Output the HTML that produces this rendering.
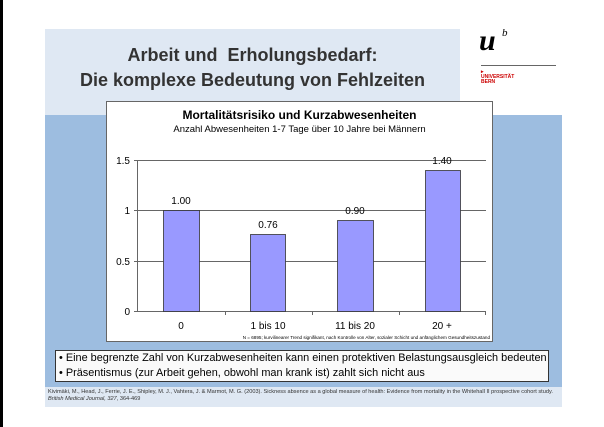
<!DOCTYPE html>
<html><head><meta charset="utf-8"><style>
body{margin:0;width:604px;height:427px;background:#fff;position:relative;overflow:hidden;font-family:"Liberation Sans",sans-serif}
div{position:absolute}
</style></head><body>
<div style="left:0;top:0;width:3px;height:427px;background:#000"></div>
<div style="left:45px;top:29px;width:415px;height:86px;background:#dfe8f3"></div>
<div style="left:45px;top:43px;width:415px;text-align:center;font-weight:bold;font-size:18px;color:#333;line-height:25px">Arbeit und&nbsp; Erholungsbedarf:<br>Die komplexe Bedeutung von Fehlzeiten</div>
<div style="left:479px;top:24px;font-family:'Liberation Serif',serif;font-weight:bold;font-style:italic;font-size:30px;color:#000">u</div>
<div style="left:502px;top:27px;font-family:'Liberation Serif',serif;font-style:italic;font-size:11px">b</div>
<div style="left:481px;top:65px;width:75px;height:1px;background:#666"></div>
<div style="left:481px;top:70px;font-size:5px;color:#c00;font-weight:bold;line-height:5px">▸<br>UNIVERSITÄT<br>BERN</div>
<div style="left:45px;top:115px;width:517px;height:272px;background:#9dbde0"></div>
<div style="left:45px;top:387px;width:517px;height:20px;background:#dfe8f3"></div>
<div style="left:48px;top:389px;font-size:5.6px;color:#333;line-height:7px;width:514px">Kivimäki, M., Head, J., Ferrie, J. E., Shipley, M. J., Vahtera, J. &amp; Marmot, M. G. (2003). Sickness absence as a global measure of health: Evidence from mortality in the Whitehall II prospective cohort study. <i>British Medical Journal, 327</i>, 364-469</div>
<div style="left:106px;top:101px;width:385px;height:239px;background:#fff;border:1px solid #666"></div>
<div style="left:106px;top:108px;width:387px;text-align:center;font-weight:bold;font-size:12px">Mortalitätsrisiko und Kurzabwesenheiten</div>
<div style="left:106px;top:124px;width:387px;text-align:center;font-size:9.5px">Anzahl Abwesenheiten 1-7 Tage über 10 Jahre bei Männern</div>
<svg style="position:absolute;left:0;top:0" width="604" height="427" font-family="Liberation Sans" font-size="10">
<g stroke="#666" stroke-width="1">
<line x1="137" y1="160.5" x2="486" y2="160.5"/><line x1="137" y1="210.5" x2="486" y2="210.5"/><line x1="137" y1="261.5" x2="486" y2="261.5"/>
<line x1="137.5" y1="160" x2="137.5" y2="311"/><line x1="137" y1="311.5" x2="486" y2="311.5"/>
<line x1="134" y1="160.5" x2="137" y2="160.5"/><line x1="134" y1="210.5" x2="137" y2="210.5"/><line x1="134" y1="261.5" x2="137" y2="261.5"/><line x1="134" y1="311.5" x2="137" y2="311.5"/>
<line x1="225.5" y1="311" x2="225.5" y2="315"/><line x1="312.5" y1="311" x2="312.5" y2="315"/><line x1="399.5" y1="311" x2="399.5" y2="315"/><line x1="485.5" y1="311" x2="485.5" y2="315"/>
</g>
<g fill="#9999ff" stroke="#333" stroke-width="0.8">
<rect x="163.5" y="210.5" width="36" height="101"/>
<rect x="250.5" y="234.5" width="35" height="77"/>
<rect x="337.5" y="220.5" width="36" height="91"/>
<rect x="425.5" y="170.5" width="35" height="141"/>
</g>
<g text-anchor="end"><text x="130" y="164">1.5</text><text x="130" y="214">1</text><text x="130" y="265">0.5</text><text x="130" y="315">0</text></g>
<g text-anchor="middle"><text x="181" y="204">1.00</text><text x="268" y="228">0.76</text><text x="355" y="214">0.90</text><text x="442" y="164">1.40</text>
<text x="181" y="329">0</text><text x="268" y="329">1 bis 10</text><text x="355" y="329">11 bis 20</text><text x="442" y="329">20 +</text></g>
<text x="490" y="339" text-anchor="end" font-size="4.6">N = 6895; kurvilinearer Trend signifikant, nach Kontrolle von Alter, sozialer Schicht und anfänglichem Gesundheitszustand</text>
</svg>
<div style="left:55px;top:350px;width:492px;height:30px;background:#fafafa;border:1px solid #333"></div>
<div style="left:59px;top:351px;font-size:10.9px;line-height:14.5px;color:#000">• Eine begrenzte Zahl von Kurzabwesenheiten kann einen protektiven Belastungsausgleich bedeuten<br>• Präsentismus (zur Arbeit gehen, obwohl man krank ist) zahlt sich nicht aus</div>
</body></html>
